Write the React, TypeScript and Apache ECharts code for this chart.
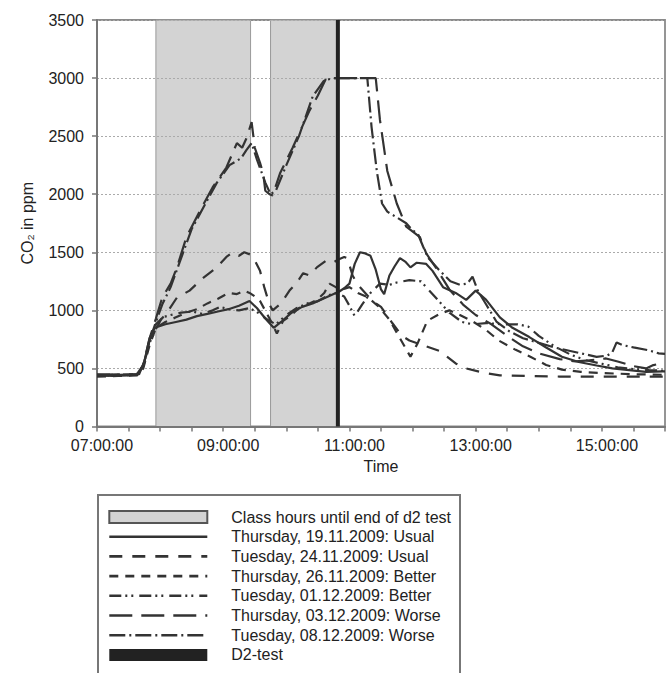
import React, { useEffect, useRef } from "react";
import * as echarts from "echarts";

const FONT = "'Liberation Sans', Arial, Helvetica, sans-serif";

// ---- axes / ticks ----
const xTickLabels = ["07:00:00", "09:00:00", "11:00:00", "13:00:00", "15:00:00"];
const xStart = "07:00";
const xEnd = "16:00";
const yMin = 0;
const yMax = 3500;
const yStep = 500;

// ---- annotations ----
const classHours = [
  ["07:56", "09:26"],
  ["09:45", "10:49"],
];
const d2TestTime = "10:49";

// ---- names ----
const nameClass = "Class hours until end of d2 test";
const nameS1 = "Thursday, 19.11.2009: Usual";
const nameS2 = "Tuesday, 24.11.2009: Usual";
const nameS3 = "Thursday, 26.11.2009: Better";
const nameS4 = "Tuesday, 01.12.2009: Better";
const nameS5 = "Thursday, 03.12.2009: Worse";
const nameS6 = "Tuesday, 08.12.2009: Worse";
const nameD2 = "D2-test";

// ---- series: Thursday 19.11.2009 Usual (solid) ----
const s1Time = ["07:00","07:15","07:30","07:40","07:45","07:50","07:55","08:05","08:15","08:25","08:35","08:45","08:55","09:05","09:15","09:25","09:32","09:40","09:48","09:55","10:05","10:15","10:25","10:35","10:45","10:50","10:55","11:00","11:05","11:10","11:15","11:20","11:25","11:30","11:33","11:38","11:43","11:48","11:53","11:58","12:04","12:13","12:19","12:29","12:41","12:51","13:00","13:10","13:23","13:35","13:51","14:07","14:22","14:38","14:55","15:10","15:26","15:42","15:58","16:00"];
const s1Ppm = [440,435,440,450,560,760,850,880,900,920,950,970,990,1010,1040,1080,1020,930,850,900,980,1030,1060,1100,1140,1160,1190,1230,1400,1500,1490,1470,1350,1180,1140,1300,1380,1450,1420,1370,1410,1400,1340,1200,1150,1090,1170,1090,940,850,770,680,600,555,525,500,485,470,475,475];

// ---- Tuesday 24.11.2009 Usual (long dash) ----
const s2Time = ["07:00","07:20","07:38","07:44","07:50","07:56","08:05","08:16","08:28","08:41","08:54","09:03","09:09","09:15","09:20","09:26","09:30","09:35","09:39","09:44","09:47","09:55","10:03","10:10","10:16","10:22","10:29","10:38","10:44","10:50","10:55","10:58","11:03","11:08","11:15","11:22","11:30","11:40","11:50","11:57","12:10","12:26","12:41","12:51","13:06","13:23","13:50","14:20","14:50","15:20","15:50","16:00"];
const s2Ppm = [450,445,450,520,740,880,960,1110,1170,1280,1370,1460,1500,1470,1500,1480,1430,1340,1200,1050,1000,1060,1170,1240,1320,1300,1370,1430,1410,1440,1460,1450,1300,1220,1150,1080,1030,900,780,740,700,650,543,500,466,440,435,430,430,430,430,430];

// ---- Thursday 26.11.2009 Better (dash) ----
const s3Time = ["07:00","07:20","07:38","07:44","07:50","07:56","08:05","08:15","08:25","08:35","08:45","08:55","09:05","09:13","09:20","09:25","09:30","09:35","09:41","09:47","09:51","09:57","10:05","10:12","10:20","10:29","10:36","10:41","10:47","10:53","11:00","11:08","11:18","11:28","11:38","11:48","11:58","12:05","12:14","12:26","12:35","12:45","12:58","13:10","13:22","13:38","13:52","14:07","14:22","14:40","15:00","15:30","16:00"];
const s3Ppm = [430,435,440,500,700,850,900,940,980,1010,1060,1100,1150,1140,1170,1150,1120,1080,980,880,800,910,960,1020,1050,1090,1150,1230,1200,1180,1200,1150,1110,1030,920,760,600,720,910,970,1000,960,900,830,740,660,600,530,490,470,460,450,445];

// ---- Tuesday 01.12.2009 Better (dash-dot-dot) ----
const s4Time = ["07:00","07:20","07:38","07:44","07:50","07:56","08:02","08:10","08:20","08:31","08:40","08:50","08:57","09:05","09:15","09:25","09:33","09:42","09:50","10:00","10:10","10:20","10:30","10:40","10:48","10:55","11:00","11:05","11:12","11:20","11:29","11:38","11:45","11:57","12:08","12:15","12:25","12:35","12:47","12:57","13:10","13:25","13:40","13:50","14:00","14:15","14:30","14:45","15:00","15:15","15:30","15:45","16:00"];
const s4Ppm = [440,440,445,520,720,840,940,960,980,990,970,1000,1030,1010,1000,1020,980,920,880,960,1020,1060,1080,1130,1150,1120,1040,950,1050,1150,1230,1220,1240,1260,1250,1180,1080,980,900,880,890,880,880,860,780,690,620,570,540,510,495,485,480];

// ---- Thursday 03.12.2009 Worse (long dash) ----
const s5Time = ["07:00","07:20","07:38","07:44","07:50","07:56","08:02","08:10","08:16","08:25","08:38","08:50","09:03","09:13","09:18","09:22","09:27","09:30","09:35","09:38","09:40","09:44","09:47","09:54","10:06","10:22","10:30","10:38","11:00","11:25","11:29","11:36","11:45","11:54","12:07","12:13","12:22","12:35","12:48","13:00","13:15","13:30","13:45","14:00","14:20","14:35","14:48","15:04","15:15","15:30","15:42","15:48","15:56","16:00"];
const s5Ppm = [445,450,450,530,760,930,1110,1230,1370,1630,1860,2060,2230,2440,2400,2480,2620,2400,2270,2180,2030,2000,1990,2180,2400,2720,2850,3000,3000,3000,2640,2200,1920,1720,1630,1490,1370,1180,1050,960,880,780,690,630,580,560,570,586,560,520,500,526,543,545];

// ---- Tuesday 08.12.2009 Worse (dash-dot) ----
const s6Time = ["07:00","07:20","07:38","07:44","07:50","07:56","08:02","08:10","08:18","08:30","08:42","08:54","09:06","09:17","09:22","09:27","09:32","09:36","09:40","09:45","09:50","10:00","10:12","10:25","10:36","10:45","11:17","11:21","11:26","11:31","11:36","11:45","11:54","12:00","12:05","12:10","12:15","12:25","12:36","12:45","12:52","12:57","13:02","13:10","13:20","13:32","13:45","14:00","14:15","14:30","14:45","14:55","15:05","15:10","15:14","15:20","15:30","15:45","15:54","16:00"];
const s6Ppm = [440,445,450,520,740,900,1050,1200,1400,1700,1900,2100,2250,2310,2380,2440,2300,2200,2100,2000,2030,2250,2500,2840,2980,3000,3000,2580,2200,1920,1850,1800,1750,1690,1660,1550,1450,1350,1250,1220,1230,1290,1170,1050,900,820,760,720,680,650,620,600,610,640,724,700,681,655,630,625];

const toH = (s: string) => {
  const [a, b] = s.split(":").map(Number);
  return a + b / 60;
};
const pairs = (t: string[], v: number[]) => t.map((s, i) => [toH(s), v[i]]);

const LINE_COLOR = "#333";

export default function App() {
  const ref = useRef<HTMLDivElement>(null);
  useEffect(() => {
    if (!ref.current) return;
    const chart = echarts.init(ref.current, null, { renderer: "svg" });

    const labelMap: Record<number, string> = {};
    xTickLabels.forEach((l) => {
      labelMap[toH(l.slice(0, 5))] = l;
    });

    const lineSeries = (name: string, t: string[], v: number[], type: any) => ({
      name,
      type: "line",
      data: pairs(t, v),
      showSymbol: false,
      symbol: "none",
      z: 3,
      itemStyle: { color: LINE_COLOR },
      lineStyle: { color: LINE_COLOR, width: 2.2, type, cap: "butt" },
    });

    const d2 = toH(d2TestTime);

    chart.setOption({
      animation: false,
      grid: {
        left: 97,
        right: 7,
        top: 20,
        bottom: 246.5,
        show: true,
        borderColor: "#8a8a8a",
        borderWidth: 1.8,
        backgroundColor: "transparent",
      },
      xAxis: {
        type: "value",
        min: toH(xStart),
        max: toH(xEnd),
        interval: 0.5,
        z: 2,
        name: "Time",
        nameLocation: "middle",
        nameGap: 32,
        nameTextStyle: { fontSize: 16, fontFamily: FONT, color: "#222" },
        axisLine: { show: true, lineStyle: { color: "#777", width: 2 } },
        axisTick: { show: true, length: 5, lineStyle: { color: "#777", width: 1.5 } },
        axisLabel: {
          fontSize: 16,
          fontFamily: FONT,
          color: "#222",
          margin: 11,
          padding: [0, 0, 0, 10],
          formatter: (v: number) => labelMap[Math.round(v * 100) / 100] || "",
        },
        splitLine: { show: false },
      },
      yAxis: {
        type: "value",
        min: yMin,
        max: yMax,
        interval: yStep,
        z: 2,
        name: "CO₂ in ppm",
        nameLocation: "middle",
        nameRotate: 90,
        nameGap: 62,
        nameTextStyle: { fontSize: 16, fontFamily: FONT, color: "#222" },
        axisLine: { show: true, lineStyle: { color: "#777", width: 2 } },
        axisTick: { show: true, length: 5, lineStyle: { color: "#777", width: 1.5 } },
        axisLabel: {
          fontSize: 16,
          fontFamily: FONT,
          color: "#222",
          margin: 13,
          formatter: (v: number) => String(v),
        },
        splitLine: {
          show: true,
          lineStyle: { color: "#aaa", width: 1, type: [2, 2] },
        },
      },
      legend: {
        orient: "vertical",
        left: 108,
        top: 509,
        padding: 0,
        itemWidth: 98,
        itemHeight: 12,
        itemGap: 3.7,
        selectedMode: false,
        itemStyle: { opacity: 0 },
        lineStyle: { width: 2.6 },
        textStyle: {
          fontSize: 16,
          fontFamily: FONT,
          color: "#222",
          padding: [0, 0, 0, 19],
        },
        data: [
          {
            name: nameClass,
            icon: "rect",
            itemStyle: { color: "#d3d3d3", borderColor: "#555", borderWidth: 2, opacity: 1 },
          },
          nameS1,
          nameS2,
          nameS3,
          nameS4,
          nameS5,
          nameS6,
          {
            name: nameD2,
            icon: "rect",
            itemStyle: { color: "#222", borderWidth: 0, opacity: 1 },
          },
        ],
      },
      graphic: [
        {
          type: "rect",
          shape: { x: 98, y: 495, width: 362, height: 220 },
          style: { fill: "none", stroke: "#777", lineWidth: 2 },
          z: -1,
        },
      ],
      series: [
        {
          name: nameClass,
          type: "line",
          data: [],
          itemStyle: { color: "#d3d3d3" },
          markArea: {
            silent: true,
            z: 1,
            itemStyle: { color: "#d3d3d3", borderColor: "#999", borderWidth: 1 },
            data: classHours.map(([a, b]) => [{ xAxis: toH(a) }, { xAxis: toH(b) }]),
          },
        },
        lineSeries(nameS1, s1Time, s1Ppm, "solid"),
        lineSeries(nameS2, s2Time, s2Ppm, [13, 10]),
        lineSeries(nameS3, s3Time, s3Ppm, [9, 7]),
        lineSeries(nameS4, s4Time, s4Ppm, [12, 4, 2, 4, 2, 6]),
        lineSeries(nameS5, s5Time, s5Ppm, [23, 9]),
        lineSeries(nameS6, s6Time, s6Ppm, [16, 4, 2, 4]),
        {
          name: nameD2,
          type: "line",
          data: [
            [d2, yMin],
            [d2, yMax],
          ],
          showSymbol: false,
          symbol: "none",
          z: 4,
          itemStyle: { color: "#222" },
          lineStyle: { color: "#222", width: 4 },
        },
      ],
    });
    return () => chart.dispose();
  }, []);
  return (
    <div
      ref={ref}
      style={{ position: "fixed", left: 0, top: 0, width: 672, height: 673, background: "#fff" }}
    />
  );
}
